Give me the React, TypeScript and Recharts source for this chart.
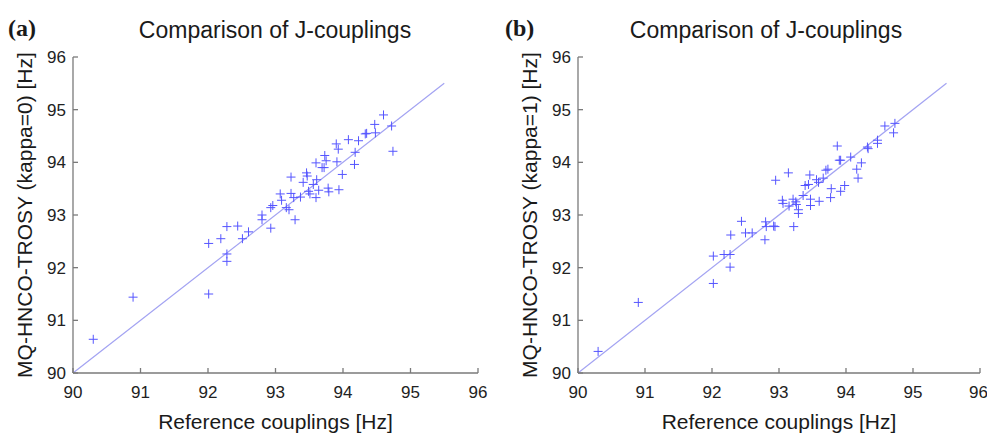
import { ScatterChart, Scatter, XAxis, YAxis, ReferenceLine } from "recharts";

// panel (a): reference couplings vs kappa=0
const refA = [
  90.3, 90.89, 92.01, 92.01, 92.19, 92.28, 92.44, 92.28, 92.28, 92.51, 92.6, 92.8, 92.8, 92.93, 92.93,
  92.96, 93.07, 93.09, 93.16, 93.2, 93.23, 93.23, 93.27, 93.29, 93.37, 93.41, 93.46, 93.47, 93.49, 93.51,
  93.6, 93.56, 93.61, 93.6, 93.64, 93.69, 93.72, 93.73, 93.75, 93.78, 93.79, 93.91, 93.9, 93.93, 93.94,
  93.99, 94.08, 94.18, 94.17, 94.23, 94.33, 94.35, 94.47, 94.48, 94.6, 94.72, 94.74,
];
const kappa0 = [
  90.64, 91.44, 91.5, 92.46, 92.55, 92.78, 92.79, 92.26, 92.12, 92.55, 92.68, 93.0, 92.91, 92.75, 93.14,
  93.18, 93.4, 93.28, 93.14, 93.1, 93.72, 93.41, 93.33, 92.91, 93.34, 93.62, 93.8, 93.74, 93.45, 93.4,
  93.33, 93.58, 93.67, 93.99, 93.47, 93.9, 93.9, 94.13, 94.03, 93.51, 93.44, 94.01, 94.35, 94.25, 93.48,
  93.77, 94.43, 94.19, 93.96, 94.41, 94.54, 94.55, 94.72, 94.56, 94.9, 94.69, 94.21,
];

// panel (b): reference couplings vs kappa=1
const refB = [
  90.3, 90.9, 92.02, 92.02, 92.18, 92.27, 92.27, 92.28, 92.44, 92.5, 92.6, 92.79, 92.8, 92.81, 92.92,
  92.94, 92.95, 93.14, 93.05, 93.06, 93.15, 93.21, 93.22, 93.25, 93.26, 93.29, 93.29, 93.36, 93.39, 93.44,
  93.46, 93.47, 93.47, 93.56, 93.59, 93.6, 93.66, 93.7, 93.73, 93.77, 93.78, 93.87, 93.9, 93.92, 93.92,
  93.98, 94.07, 94.16, 94.18, 94.23, 94.32, 94.33, 94.47, 94.47, 94.58, 94.73, 94.71,
];
const kappa1 = [
  90.41, 91.34, 91.7, 92.22, 92.25, 92.25, 92.01, 92.62, 92.88, 92.66, 92.66, 92.53, 92.87, 92.78, 92.79,
  92.78, 93.66, 93.8, 93.28, 93.22, 93.17, 93.3, 92.78, 93.25, 93.2, 93.1, 93.03, 93.37, 93.56, 93.58,
  93.76, 93.3, 93.18, 93.67, 93.62, 93.26, 93.7, 93.85, 93.87, 93.33, 93.5, 94.31, 94.04, 94.04, 93.45,
  93.56, 94.1, 93.87, 93.7, 93.99, 94.29, 94.26, 94.42, 94.36, 94.69, 94.74, 94.56,
];

const ticks = [90, 91, 92, 93, 94, 95, 96];
const diagonal = [90, 95.5];

const AXIS = "#7a7a7a";
const MARK = "#5555ff";
const LINE = "#a3a3f2";
const FONT = "'Liberation Sans', Arial, sans-serif";

function Plus(props: any) {
  const { cx, cy } = props;
  if (cx == null || cy == null) return null;
  const s = 4.5;
  return (
    <g stroke={MARK} strokeWidth={1}>
      <line x1={cx - s} y1={cy} x2={cx + s} y2={cy} />
      <line x1={cx} y1={cy - s} x2={cx} y2={cy + s} />
    </g>
  );
}

interface PanelProps {
  xs: number[];
  ys: number[];
  left: number;
  width: number;
  yAxisWidth: number;
  marginRight: number;
  letter: string;
  yTitle: string;
  titleX: number;
  yTitleX: number;
}

function Panel({ xs, ys, left, width, yAxisWidth, marginRight, letter, yTitle, titleX, yTitleX }: PanelProps) {
  const data = xs.map((x, i) => ({ x, y: ys[i] }));
  const plotLeft = yAxisWidth;
  const plotRight = width - marginRight;
  const tick = { fill: "#222", fontSize: 17, fontFamily: FONT };
  return (
    <div style={{ position: "absolute", left, top: 0, width, height: 434 }}>
      <ScatterChart width={width} height={434} margin={{ top: 57, right: marginRight, bottom: 4, left: 0 }}>
        <XAxis
          xAxisId="b"
          dataKey="x"
          type="number"
          domain={[90, 96]}
          ticks={ticks}
          height={57}
          stroke={AXIS}
          strokeWidth={1.3}
          tickSize={-5}
          tickMargin={18}
          tick={tick}
          allowDataOverflow
        />
        <XAxis
          xAxisId="t"
          orientation="top"
          type="number"
          domain={[90, 96]}
          ticks={ticks}
          height={0}
          stroke={AXIS}
          strokeWidth={1.3}
          tickSize={-5}
          tickFormatter={() => ""}
        />
        <YAxis
          yAxisId="l"
          dataKey="y"
          type="number"
          domain={[90, 96]}
          ticks={ticks}
          width={yAxisWidth}
          stroke={AXIS}
          strokeWidth={1.3}
          tickSize={-5}
          tickMargin={12}
          tick={tick}
          allowDataOverflow
        />
        <YAxis
          yAxisId="r"
          orientation="right"
          type="number"
          domain={[90, 96]}
          ticks={ticks}
          width={0}
          stroke={AXIS}
          strokeWidth={1.3}
          tickSize={-5}
          tickFormatter={() => ""}
        />
        <ReferenceLine
          xAxisId="b"
          yAxisId="l"
          segment={[
            { x: diagonal[0], y: diagonal[0] },
            { x: diagonal[1], y: diagonal[1] },
          ]}
          stroke={LINE}
          strokeWidth={1.2}
        />
        <Scatter xAxisId="b" yAxisId="l" data={data} shape={<Plus />} isAnimationActive={false} />
      </ScatterChart>
      <div
        style={{
          position: "absolute",
          left: titleX - left,
          top: 30,
          transform: "translate(-50%, -50%)",
          fontFamily: FONT,
          fontSize: 23,
          lineHeight: 1,
          color: "#1a1a1a",
          whiteSpace: "nowrap",
        }}
      >
        Comparison of J-couplings
      </div>
      <div
        style={{
          position: "absolute",
          left: 8,
          top: 28,
          transform: "translateY(-50%)",
          fontFamily: "'Liberation Serif', 'Times New Roman', serif",
          fontWeight: "bold",
          fontSize: 24,
          lineHeight: 1,
          color: "#1a1a1a",
        }}
      >
        {letter}
      </div>
      <div
        style={{
          position: "absolute",
          left: (plotLeft + plotRight) / 2,
          top: 421,
          transform: "translate(-50%, -50%)",
          fontFamily: FONT,
          fontSize: 21,
          lineHeight: 1,
          color: "#1a1a1a",
          whiteSpace: "nowrap",
        }}
      >
        Reference couplings [Hz]
      </div>
      <div
        style={{
          position: "absolute",
          left: yTitleX,
          top: 215,
          transform: "translate(-50%, -50%) rotate(-90deg)",
          fontFamily: FONT,
          fontSize: 21,
          lineHeight: 1,
          color: "#1a1a1a",
          whiteSpace: "nowrap",
        }}
      >
        {yTitle}
      </div>
    </div>
  );
}

export default function App() {
  return (
    <div style={{ position: "absolute", left: 0, top: 0, width: 987, height: 434, background: "#fff", overflow: "hidden" }}>
      <Panel
        xs={refA}
        ys={kappa0}
        left={0}
        width={493}
        yAxisWidth={73}
        marginRight={15}
        letter="(a)"
        yTitle="MQ-HNCO-TROSY (kappa=0) [Hz]"
        titleX={275}
        yTitleX={24}
      />
      <Panel
        xs={refB}
        ys={kappa1}
        left={497}
        width={490}
        yAxisWidth={81}
        marginRight={7}
        letter="(b)"
        yTitle="MQ-HNCO-TROSY (kappa=1) [Hz]"
        titleX={766}
        yTitleX={32}
      />
    </div>
  );
}
